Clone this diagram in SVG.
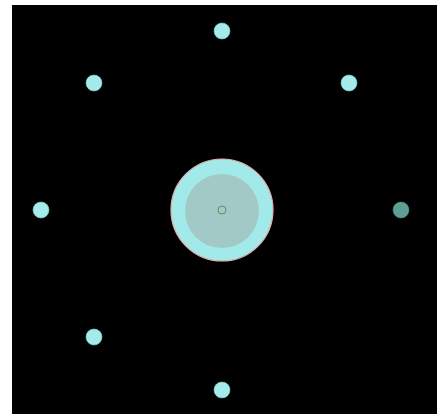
<svg xmlns="http://www.w3.org/2000/svg" width="437" height="414" viewBox="0 0 437 414">
<style>
.sat{fill:#a4ecec;stroke:#7fcfcf;stroke-width:0.6}
</style>
<rect x="0" y="0" width="437" height="414" fill="#ffffff"/>
<rect x="12" y="5" width="425" height="409" fill="#000000"/>
<g id="connectors"></g>
<g id="center">
<circle cx="222" cy="210" r="51" fill="#a2eaea" stroke="#e8b0b0" stroke-width="1.2"/>
<circle cx="222" cy="211" r="37" fill="#a3c9c6"/>
<circle cx="222" cy="210" r="4" fill="none" stroke="#4a9a5a" stroke-width="1"/>
</g>
<g id="n-top"><circle class="sat" cx="222" cy="31" r="8"/></g>
<g id="n-topleft"><circle class="sat" cx="94" cy="83" r="8"/></g>
<g id="n-topright"><circle class="sat" cx="349" cy="83" r="8"/></g>
<g id="n-left"><circle class="sat" cx="41" cy="210" r="8"/></g>
<g id="n-right"><circle cx="401" cy="210" r="8" fill="#5f9e92" stroke="#4a8a7e" stroke-width="0.6"/></g>
<g id="n-bottomleft"><circle class="sat" cx="94" cy="337" r="8"/></g>
<g id="n-bottom"><circle class="sat" cx="222" cy="390" r="8"/></g>
</svg>
